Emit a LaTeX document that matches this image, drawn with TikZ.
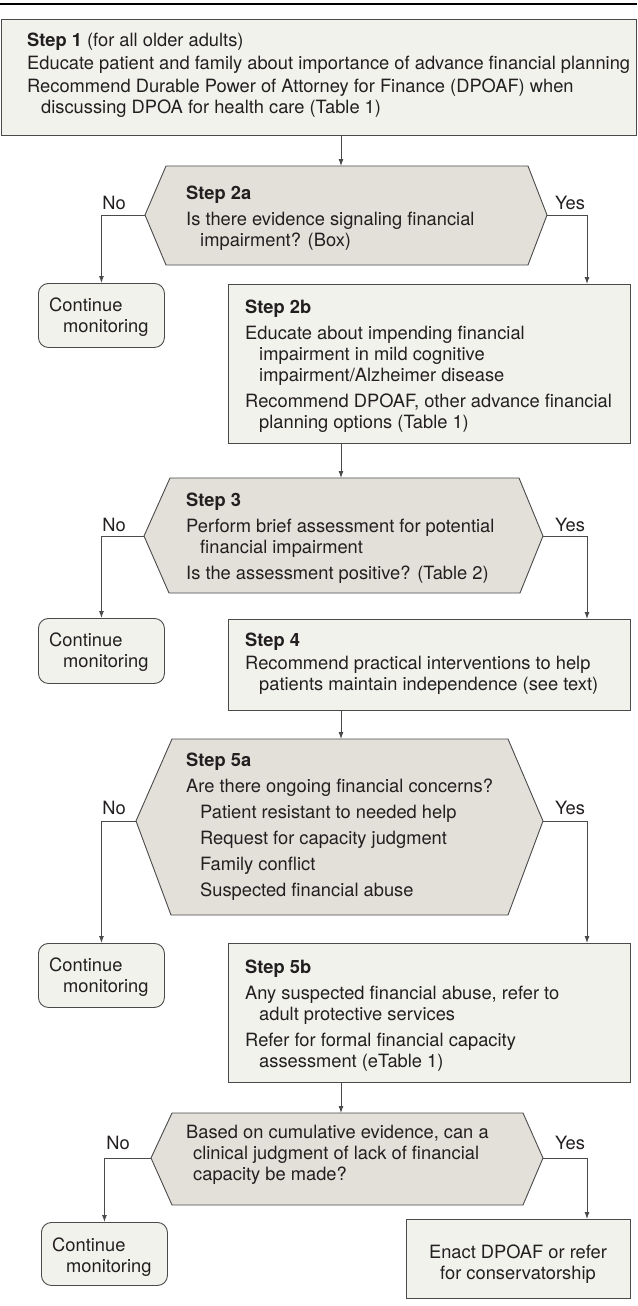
\documentclass[tikz,border=0pt]{standalone}
\usepackage{fontspec}
\setmainfont{TeX Gyre Heros}
\usetikzlibrary{arrows.meta}
\definecolor{boxc}{HTML}{F2F2ED}
\definecolor{hexc}{HTML}{E3E0DA}
\definecolor{linec}{HTML}{4A4A4A}
\definecolor{txtc}{HTML}{231F20}
\newcommand{\flines}[1]{\vtop{\baselineskip=21pt\lineskiplimit=-100pt\lineskip=0pt\halign{##\hfil\cr#1\crcr}}}
\newcommand{\clines}[1]{\vtop{\baselineskip=21pt\lineskiplimit=-100pt\lineskip=0pt\halign{\hfil##\hfil\cr#1\crcr}}}
\newcommand{\pg}{\noalign{\vskip5pt}}
\newcommand{\ind}{\hspace*{14pt}}
\tikzset{
  stepbox/.style={draw=linec, fill=boxc, line width=0.9pt, inner sep=0pt, anchor=north west},
  monbox/.style={stepbox, rounded corners=10pt},
  hexbox/.style={draw=linec, fill=hexc, line width=0.9pt},
  txt/.style={inner sep=0pt, anchor=base west, text=txtc},
  ctxt/.style={inner sep=0pt, anchor=base, text=txtc},
  lab/.style={inner sep=0pt, anchor=base, text=txtc},
  conn/.style={draw=linec, line width=0.9pt, -{Latex[length=7pt,width=5pt]}}
}
\begin{document}
\begin{tikzpicture}[x=1pt,y=-1pt,font=\fontsize{18.3}{21}\selectfont]
\useasboundingbox (0,0) rectangle (637,1306);
\draw[line width=1.2pt] (0,4) -- (637,4);
\coordinate (ax) at (341,0);
\coordinate (rx) at (587,0);

% Step 1
\node[stepbox, minimum width=635pt, minimum height=116pt] (s1) at (1,19) {};
\node[txt] (t1) at (27,47) {\flines{\textbf{Step 1} (for all older adults)\cr\noalign{\vskip2pt}Educate patient and family about importance of advance financial planning\cr\noalign{\vskip2pt}Recommend Durable Power of Attorney for Finance (DPOAF) when\cr\ind discussing DPOA for health care (Table 1)}};

% Step 2a
\coordinate (h2aL) at (145,215); \coordinate (h2aR) at (547,215); \coordinate (h2aT) at (341,166);
\path[hexbox] (166,166) -- (528,166) -- (h2aR) -- (528,265) -- (166,265) -- (h2aL) -- cycle;
\node[txt] (t2a) at (186,199) {\flines{\textbf{Step 2a}\cr\pg Is there evidence signaling financial\cr\ind impairment? (Box)}};
\node[lab] (no2a) at (114,209) {No};
\node[lab] (yes2a) at (570,209) {Yes};
\node[monbox, minimum width=126pt, minimum height=64pt] (m1) at (38,283) {};
\node[txt] (tm1) at (49,311) {\flines{Continue\cr\ind monitoring}};

% Step 2b
\node[stepbox, minimum width=402pt, minimum height=159pt] (s2b) at (228,284) {};
\node[txt] (t2b) at (245,313) {\flines{\textbf{Step 2b}\cr\pg Educate about impending financial\cr\ind impairment in mild cognitive\cr\ind impairment/Alzheimer disease\cr\pg Recommend DPOAF, other advance financial\cr\ind planning options (Table 1)}};

% Step 3
\coordinate (h3L) at (144,536); \coordinate (h3R) at (543,536); \coordinate (h3T) at (341,478);
\path[hexbox] (170,478) -- (519,478) -- (h3R) -- (520,593) -- (169,593) -- (h3L) -- cycle;
\node[txt] (t3) at (186,506) {\flines{\textbf{Step 3}\cr\pg Perform brief assessment for potential\cr\ind financial impairment\cr\pg Is the assessment positive? (Table 2)}};
\node[lab] (no3) at (114,531) {No};
\node[lab] (yes3) at (570,531) {Yes};
\node[monbox, minimum width=126pt, minimum height=65pt] (m2) at (38,618) {};
\node[txt] (tm2) at (49,646) {\flines{Continue\cr\ind monitoring}};

% Step 4
\node[stepbox, minimum width=402pt, minimum height=91pt] (s4) at (228,619) {};
\node[txt] (t4) at (245,646) {\flines{\textbf{Step 4}\cr\noalign{\vskip2pt}Recommend practical interventions to help\cr\ind patients maintain independence (see text)}};

% Step 5a
\coordinate (h5L) at (136,821); \coordinate (h5R) at (543,821); \coordinate (h5T) at (341,739);
\path[hexbox] (172,739) -- (508,739) -- (h5R) -- (508,915) -- (171,915) -- (h5L) -- cycle;
\node[txt] (t5a) at (186,766) {\flines{\textbf{Step 5a}\cr\pg Are there ongoing financial concerns?\cr\pg\ind Patient resistant to needed help\cr\pg\ind Request for capacity judgment\cr\pg\ind Family conflict\cr\pg\ind Suspected financial abuse}};
\node[lab] (no5) at (114,814) {No};
\node[lab] (yes5) at (570,814) {Yes};
\node[monbox, minimum width=126pt, minimum height=64pt] (m3) at (38,943) {};
\node[txt] (tm3) at (49,971) {\flines{Continue\cr\ind monitoring}};

% Step 5b
\node[stepbox, minimum width=402pt, minimum height=139pt] (s5b) at (228,943) {};
\node[txt] (t5b) at (245,973) {\flines{\textbf{Step 5b}\cr\pg Any suspected financial abuse, refer to\cr\ind adult protective services\cr\pg Refer for formal financial capacity\cr\ind assessment (eTable 1)}};

% Final decision
\coordinate (hfL) at (151,1158); \coordinate (hfR) at (543,1158); \coordinate (hfT) at (341,1113);
\path[hexbox] (172,1113) -- (523,1113) -- (hfR) -- (523,1205) -- (172,1205) -- (hfL) -- cycle;
\node[txt] (tf) at (186,1138) {\flines{Based on cumulative evidence, can a\cr\hspace*{7pt}clinical judgment of lack of financial\cr\hspace*{7pt}capacity be made?}};
\node[lab] (nof) at (118,1149) {No};
\node[lab] (yesf) at (570,1149) {Yes};
\node[monbox, minimum width=126pt, minimum height=63pt] (m4) at (41,1222) {};
\node[txt] (tm4) at (52,1251) {\flines{Continue\cr\ind monitoring}};
\node[stepbox, minimum width=224pt, minimum height=79pt] (ef) at (406,1219) {};
\node[ctxt] (tef) at (518,1258) {\clines{Enact DPOAF or refer\cr for conservatorship}};

% connectors
\draw[conn] (ax |- s1.south) -- (h2aT);
\draw[conn] (h2aL) -| (m1.north);
\draw[conn] (h2aR) -- (h2aR -| rx) -- (rx |- s2b.north);
\draw[conn] (ax |- s2b.south) -- (h3T);
\draw[conn] (h3L) -| (m2.north);
\draw[conn] (h3R) -- (h3R -| rx) -- (rx |- s4.north);
\draw[conn] (ax |- s4.south) -- (h5T);
\draw[conn] (h5L) -| (m3.north);
\draw[conn] (h5R) -- (h5R -| rx) -- (rx |- s5b.north);
\draw[conn] (ax |- s5b.south) -- (hfT);
\draw[conn] (hfL) -| (m4.north);
\draw[conn] (hfR) -- (hfR -| rx) -- (rx |- ef.north);
\end{tikzpicture}
\end{document}
